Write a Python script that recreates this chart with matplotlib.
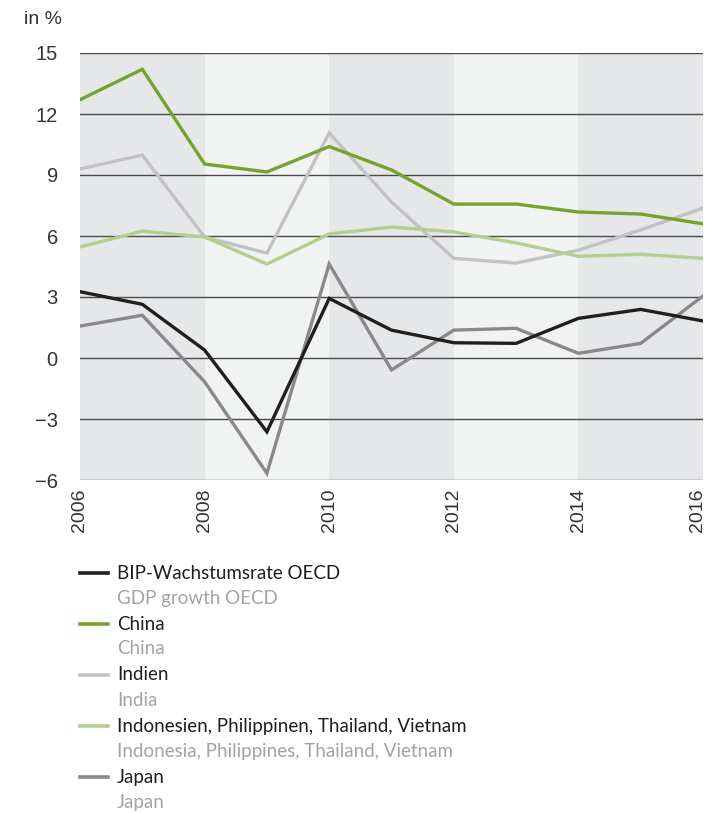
import matplotlib.pyplot as plt
import matplotlib.transforms as mtransforms
from matplotlib.lines import Line2D

years = [2006, 2007, 2008, 2009, 2010, 2011, 2012, 2013, 2014, 2015, 2016]

oecd = [3.26, 2.64, 0.39, -3.63, 2.93, 1.37, 0.75, 0.72, 1.95, 2.39, 1.82]
china = [12.7, 14.2, 9.54, 9.15, 10.4, 9.25, 7.57, 7.57, 7.18, 7.08, 6.6]
india = [9.3, 9.98, 5.95, 5.16, 11.07, 7.67, 4.9, 4.67, 5.3, 6.3, 7.37]
asean = [5.46, 6.24, 5.95, 4.62, 6.1, 6.44, 6.2, 5.66, 5.0, 5.1, 4.9]
japan = [1.57, 2.1, -1.17, -5.67, 4.62, -0.59, 1.37, 1.46, 0.23, 0.72, 3.05]

labels_de = ["BIP-Wachstumsrate OECD", "China", "Indien",
             "Indonesien, Philippinen, Thailand, Vietnam", "Japan"]
labels_en = ["GDP growth OECD", "China", "India",
             "Indonesia, Philippines, Thailand, Vietnam", "Japan"]

y_ticks = [-6, -3, 0, 3, 6, 9, 12, 15]
x_ticks = [2006, 2008, 2010, 2012, 2014, 2016]

colors = ["#1f1f1f", "#77a22c", "#c2c2c5", "#b4cf8d", "#89898b"]
series = [oecd, china, india, asean, japan]
draw_order = [2, 3, 4, 0, 1]

fig = plt.figure(figsize=(7.06, 8.13), dpi=100)
ax = fig.add_axes([80 / 706, 333 / 813, 623 / 706, 427 / 813])

# alternating background bands
for i in range(len(x_ticks) - 1):
    c = "#e6e7e9" if i % 2 == 0 else "#f1f3f2"
    ax.axvspan(x_ticks[i], x_ticks[i + 1], color=c, lw=0, zorder=0)

for y in y_ticks:
    ax.axhline(y, color="#4a4a4a", lw=1.0, zorder=1)

for i in draw_order:
    ax.plot(years, series[i], color=colors[i], lw=2.4, zorder=3,
            solid_joinstyle="miter")

ax.set_xlim(2006, 2016)
ax.set_ylim(-6, 15)
ax.set_yticks(y_ticks)
ax.set_yticklabels([str(v).replace("-", "\u2212") for v in y_ticks],
                   fontsize=14.5, color="#333333", family="Liberation Sans")
ax.set_xticks(x_ticks)
ax.set_xticklabels([str(v) for v in x_ticks], rotation=90, fontsize=14,
                   color="#333333", family="Liberation Sans", va="top")
ax.tick_params(length=0, pad=6)
ax.tick_params(axis="y", pad=16)
for s in ax.spines.values():
    s.set_visible(False)

# nudge last year label left so it stays inside the figure
last = ax.get_xticklabels()[-1]
last.set_transform(last.get_transform() +
                   mtransforms.ScaledTranslation(-5 / 100, 0, fig.dpi_scale_trans))

fig.text(24 / 706, 1 - 20 / 813, "in %", fontsize=14, color="#333333",
         family="Liberation Sans", va="center")

# legend drawn by hand: German label with English subtitle
for k in range(len(labels_de)):
    y0 = 1 - (573 + 51 * k) / 813
    y1 = 1 - (598 + 51 * k) / 813
    fig.add_artist(Line2D([80 / 706, 108 / 706], [y0, y0], color=colors[k],
                          lw=2.6, transform=fig.transFigure))
    fig.text(117 / 706, y0, labels_de[k], fontsize=13.5, color="#1e1e1e",
             family="Lato", va="center")
    fig.text(117 / 706, y1, labels_en[k], fontsize=13.5, color="#a3a3a3",
             family="Lato", va="center")

fig.savefig("out.png", dpi=100)
